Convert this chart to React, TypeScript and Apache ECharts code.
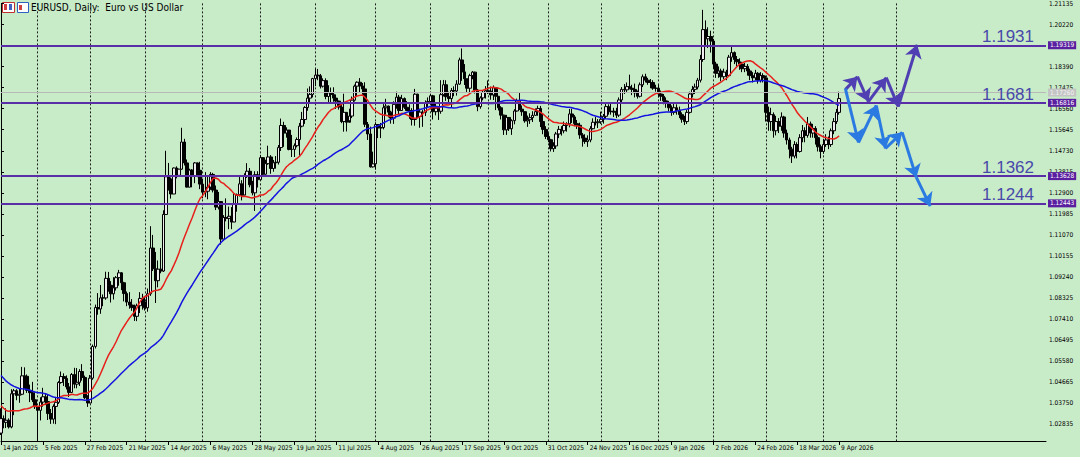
import React, { useEffect, useRef } from "react";
import * as echarts from "echarts";

// ---------- DATA ----------
// closes before the first visible bar (needed only for the moving averages)
const preCloses = [
  1.0880, 1.0925, 1.0728, 1.0800, 1.0719, 1.0656, 1.0623, 1.0563, 1.0529, 1.0541,
  1.0598, 1.0596, 1.0543, 1.0474, 1.0418, 1.0495, 1.0488, 1.0566, 1.0553, 1.0577,
  1.0497, 1.0500, 1.0511, 1.0587, 1.0567, 1.0554, 1.0525, 1.0497, 1.0467, 1.0500,
  1.0514, 1.0490, 1.0352, 1.0365, 1.0430, 1.0406, 1.0405, 1.0422, 1.0427, 1.0405,
  1.0354, 1.0265, 1.0307, 1.0389, 1.0340, 1.0317, 1.0300, 1.0244, 1.0245,
];

const closes = [
  // Jan 2025
  1.0308, 1.0292, 1.0301, 1.0272, 1.0416, 1.0429, 1.0409, 1.0414, 1.0494, 1.0492, 1.0431, 1.0421, 1.0390, 1.0360,
  // Feb
  1.0344, 1.0380, 1.0403, 1.0382, 1.0330, 1.0306, 1.0361, 1.0379, 1.0465, 1.0491, 1.0483, 1.0446, 1.0422, 1.0500, 1.0458, 1.0466, 1.0513, 1.0487, 1.0399, 1.0376,
  // Mar
  1.0484, 1.0622, 1.0791, 1.0785, 1.0833, 1.0833, 1.0918, 1.0888, 1.0851, 1.0877, 1.0921, 1.0942, 1.0899, 1.0852, 1.0815, 1.0802, 1.0791, 1.0753, 1.0799, 1.0831, 1.0815,
  // Apr
  1.0790, 1.0851, 1.1050, 1.0960, 1.0908, 1.0958, 1.0950, 1.1196, 1.1360, 1.1350, 1.1285, 1.1398, 1.1366, 1.1393, 1.1511, 1.1420, 1.1315, 1.1389, 1.1364, 1.1420, 1.1388, 1.1328,
  // May
  1.1293, 1.1297, 1.1315, 1.1370, 1.1302, 1.1228, 1.1252, 1.1089, 1.1183, 1.1179, 1.1188, 1.1163, 1.1243, 1.1282, 1.1329, 1.1280, 1.1364, 1.1384, 1.1325, 1.1290, 1.1369, 1.1347,
  // Jun
  1.1443, 1.1371, 1.1417, 1.1446, 1.1396, 1.1421, 1.1423, 1.1487, 1.1583, 1.1550, 1.1563, 1.1479, 1.1479, 1.1495, 1.1522, 1.1580, 1.1609, 1.1661, 1.1702, 1.1718, 1.1787,
  // Jul
  1.1802, 1.1799, 1.1754, 1.1778, 1.1709, 1.1725, 1.1718, 1.1702, 1.1689, 1.1663, 1.1600, 1.1640, 1.1597, 1.1624, 1.1693, 1.1754, 1.1771, 1.1755, 1.1742, 1.1588, 1.1546, 1.1403, 1.1416,
  // Aug
  1.1587, 1.1572, 1.1574, 1.1660, 1.1667, 1.1641, 1.1615, 1.1675, 1.1706, 1.1648, 1.1700, 1.1662, 1.1648, 1.1648, 1.1609, 1.1719, 1.1622, 1.1641, 1.1640, 1.1681, 1.1687,
  // Sep
  1.1712, 1.1643, 1.1658, 1.1645, 1.1717, 1.1760, 1.1708, 1.1700, 1.1735, 1.1733, 1.1763, 1.1868, 1.1816, 1.1786, 1.1745, 1.1800, 1.1815, 1.1737, 1.1665, 1.1703, 1.1727, 1.1734,
  // Oct
  1.1732, 1.1716, 1.1747, 1.1710, 1.1660, 1.1628, 1.1564, 1.1618, 1.1569, 1.1604, 1.1646, 1.1690, 1.1654, 1.1643, 1.1603, 1.1608, 1.1617, 1.1627, 1.1643, 1.1657, 1.1600, 1.1566, 1.1535,
  // Nov
  1.1521, 1.1482, 1.1494, 1.1546, 1.1566, 1.1560, 1.1583, 1.1590, 1.1633, 1.1620, 1.1591, 1.1584, 1.1542, 1.1528, 1.1513, 1.1520, 1.1569, 1.1597, 1.1595, 1.1599,
  // Dec
  1.1610, 1.1623, 1.1665, 1.1643, 1.1645, 1.1641, 1.1628, 1.1694, 1.1740, 1.1738, 1.1752, 1.1745, 1.1740, 1.1725, 1.1710, 1.1760, 1.1795, 1.1780, 1.1770, 1.1770, 1.1745, 1.1745,
  // Jan 2026
  1.1720, 1.1710, 1.1690, 1.1680, 1.1660, 1.1640, 1.1660, 1.1650, 1.1630, 1.1610, 1.1600, 1.1640, 1.1720, 1.1740, 1.1750, 1.1780, 1.1870, 1.2000, 1.1960, 1.1970, 1.1950,
  // Feb 2026
  1.1850, 1.1810, 1.1820, 1.1795, 1.1815, 1.1800, 1.1880, 1.1900, 1.1870, 1.1860, 1.1850, 1.1830, 1.1840, 1.1820, 1.1800, 1.1790, 1.1810, 1.1780, 1.1800, 1.1790,
  // Mar 2026
  1.1640, 1.1600, 1.1630, 1.1560, 1.1600, 1.1580, 1.1620, 1.1550, 1.1520, 1.1480, 1.1450, 1.1500, 1.1470, 1.1530, 1.1560, 1.1540, 1.1590, 1.1550, 1.1570, 1.1530, 1.1490, 1.1470,
  // Apr 2026
  1.1500, 1.1520, 1.1500, 1.1560, 1.1600, 1.1640, 1.1700,
];

const highs = [
  1.0353, 1.0322, 1.0353, 1.0309, 1.0436, 1.0437, 1.0436, 1.0438, 1.0533, 1.0531, 1.0500, 1.0456, 1.0468, 1.0423,
  1.0360, 1.0401, 1.0442, 1.0416, 1.0412, 1.0350, 1.0370, 1.0398, 1.0471, 1.0513, 1.0505, 1.0496, 1.0463, 1.0506, 1.0529, 1.0528, 1.0523, 1.0545, 1.0495, 1.0410,
  1.0498, 1.0630, 1.0804, 1.0854, 1.0889, 1.0848, 1.0947, 1.0946, 1.0906, 1.0923, 1.0928, 1.0955, 1.0945, 1.0903, 1.0861, 1.0858, 1.0828, 1.0804, 1.0808, 1.0858, 1.0851,
  1.0836, 1.0874, 1.1145, 1.1107, 1.1033, 1.0996, 1.1050, 1.1214, 1.1473, 1.1420, 1.1357, 1.1400, 1.1405, 1.1395, 1.1573, 1.1525, 1.1435, 1.1395, 1.1393, 1.1424, 1.1422, 1.1425,
  1.1352, 1.1380, 1.1362, 1.1380, 1.1377, 1.1322, 1.1294, 1.1250, 1.1193, 1.1266, 1.1230, 1.1228, 1.1287, 1.1287, 1.1363, 1.1345, 1.1375, 1.1419, 1.1398, 1.1342, 1.1384, 1.1384,
  1.1455, 1.1441, 1.1434, 1.1495, 1.1454, 1.1433, 1.1450, 1.1498, 1.1613, 1.1599, 1.1575, 1.1561, 1.1542, 1.1505, 1.1531, 1.1594, 1.1642, 1.1667, 1.1744, 1.1753, 1.1790,
  1.1830, 1.1829, 1.1807, 1.1788, 1.1788, 1.1758, 1.1748, 1.1749, 1.1718, 1.1691, 1.1680, 1.1721, 1.1638, 1.1656, 1.1709, 1.1761, 1.1775, 1.1789, 1.1768, 1.1771, 1.1598, 1.1578, 1.1469,
  1.1597, 1.1584, 1.1594, 1.1676, 1.1699, 1.1670, 1.1647, 1.1688, 1.1730, 1.1716, 1.1716, 1.1705, 1.1689, 1.1675, 1.1658, 1.1742, 1.1721, 1.1656, 1.1650, 1.1692, 1.1705,
  1.1720, 1.1716, 1.1680, 1.1666, 1.1780, 1.1781, 1.1780, 1.1730, 1.1746, 1.1753, 1.1780, 1.1878, 1.1918, 1.1850, 1.1787, 1.1808, 1.1820, 1.1817, 1.1742, 1.1710, 1.1733, 1.1754,
  1.1779, 1.1752, 1.1757, 1.1744, 1.1710, 1.1667, 1.1630, 1.1629, 1.1618, 1.1610, 1.1654, 1.1700, 1.1728, 1.1670, 1.1645, 1.1626, 1.1636, 1.1645, 1.1657, 1.1669, 1.1668, 1.1635, 1.1580,
  1.1550, 1.1525, 1.1510, 1.1555, 1.1581, 1.1580, 1.1600, 1.1597, 1.1655, 1.1656, 1.1628, 1.1607, 1.1595, 1.1550, 1.1545, 1.1540, 1.1580, 1.1614, 1.1620, 1.1611,
  1.1643, 1.1633, 1.1683, 1.1675, 1.1680, 1.1660, 1.1660, 1.1705, 1.1750, 1.1763, 1.1770, 1.1804, 1.1760, 1.1765, 1.1735, 1.1770, 1.1805, 1.1808, 1.1790, 1.1785, 1.1780, 1.1760,
  1.1760, 1.1735, 1.1720, 1.1705, 1.1690, 1.1670, 1.1680, 1.1675, 1.1665, 1.1640, 1.1625, 1.1650, 1.1730, 1.1755, 1.1765, 1.1790, 1.1890, 1.2086, 1.2040, 1.2010, 1.1995,
  1.1960, 1.1860, 1.1840, 1.1830, 1.1830, 1.1825, 1.1890, 1.1930, 1.1905, 1.1885, 1.1875, 1.1860, 1.1855, 1.1850, 1.1830, 1.1815, 1.1825, 1.1815, 1.1815, 1.1810,
  1.1800, 1.1665, 1.1660, 1.1640, 1.1625, 1.1615, 1.1640, 1.1625, 1.1565, 1.1530, 1.1490, 1.1515, 1.1510, 1.1545, 1.1585, 1.1575, 1.1620, 1.1600, 1.1590, 1.1580, 1.1540, 1.1500,
  1.1525, 1.1545, 1.1535, 1.1570, 1.1615, 1.1655, 1.1730,
];

// lows as visible in the picture (the 3 Feb 2025 wick runs to the bottom edge)
const lows = [
  1.0237, 1.0266, 1.0267, 1.0265, 1.0266, 1.0323, 1.0388, 1.0377, 1.0410, 1.0437, 1.0420, 1.0380, 1.0380, 1.0350,
  1.0212, 1.0300, 1.0360, 1.0367, 1.0302, 1.0285, 1.0286, 1.0284, 1.0372, 1.0460, 1.0450, 1.0435, 1.0402, 1.0420, 1.0440, 1.0440, 1.0450, 1.0473, 1.0393, 1.0359,
  1.0387, 1.0477, 1.0613, 1.0760, 1.0764, 1.0797, 1.0825, 1.0860, 1.0813, 1.0826, 1.0865, 1.0886, 1.0867, 1.0818, 1.0797, 1.0786, 1.0777, 1.0733, 1.0732, 1.0767, 1.0782,
  1.0778, 1.0773, 1.0842, 1.0950, 1.0811, 1.0879, 1.0940, 1.0946, 1.1196, 1.1300, 1.1265, 1.1285, 1.1353, 1.1363, 1.1390, 1.1409, 1.1313, 1.1314, 1.1314, 1.1332, 1.1358, 1.1306,
  1.1266, 1.1271, 1.1262, 1.1303, 1.1292, 1.1215, 1.1218, 1.1065, 1.1081, 1.1166, 1.1132, 1.1132, 1.1165, 1.1208, 1.1274, 1.1257, 1.1282, 1.1355, 1.1314, 1.1279, 1.1211, 1.1313,
  1.1345, 1.1360, 1.1369, 1.1412, 1.1373, 1.1382, 1.1395, 1.1413, 1.1472, 1.1490, 1.1530, 1.1475, 1.1446, 1.1446, 1.1488, 1.1452, 1.1575, 1.1590, 1.1647, 1.1681, 1.1705,
  1.1754, 1.1780, 1.1744, 1.1748, 1.1697, 1.1682, 1.1683, 1.1686, 1.1655, 1.1652, 1.1593, 1.1556, 1.1557, 1.1606, 1.1615, 1.1687, 1.1712, 1.1725, 1.1716, 1.1576, 1.1520, 1.1400, 1.1400,
  1.1391, 1.1528, 1.1528, 1.1566, 1.1630, 1.1618, 1.1591, 1.1590, 1.1656, 1.1631, 1.1647, 1.1655, 1.1646, 1.1612, 1.1583, 1.1582, 1.1614, 1.1573, 1.1577, 1.1624, 1.1661,
  1.1679, 1.1609, 1.1627, 1.1607, 1.1634, 1.1709, 1.1690, 1.1681, 1.1660, 1.1710, 1.1713, 1.1760, 1.1777, 1.1759, 1.1726, 1.1728, 1.1784, 1.1722, 1.1645, 1.1656, 1.1692, 1.1700,
  1.1720, 1.1695, 1.1694, 1.1650, 1.1648, 1.1609, 1.1542, 1.1542, 1.1559, 1.1542, 1.1588, 1.1643, 1.1650, 1.1625, 1.1595, 1.1577, 1.1590, 1.1598, 1.1626, 1.1625, 1.1576, 1.1545, 1.1524,
  1.1510, 1.1470, 1.1468, 1.1481, 1.1528, 1.1539, 1.1549, 1.1556, 1.1575, 1.1594, 1.1580, 1.1568, 1.1525, 1.1491, 1.1503, 1.1490, 1.1510, 1.1566, 1.1583, 1.1572,
  1.1590, 1.1591, 1.1614, 1.1630, 1.1630, 1.1620, 1.1615, 1.1620, 1.1680, 1.1720, 1.1725, 1.1740, 1.1715, 1.1705, 1.1700, 1.1705, 1.1750, 1.1770, 1.1760, 1.1745, 1.1738, 1.1730,
  1.1705, 1.1690, 1.1675, 1.1660, 1.1645, 1.1625, 1.1630, 1.1630, 1.1615, 1.1595, 1.1585, 1.1590, 1.1635, 1.1705, 1.1720, 1.1740, 1.1770, 1.1860, 1.1930, 1.1920, 1.1900,
  1.1830, 1.1790, 1.1790, 1.1775, 1.1785, 1.1780, 1.1795, 1.1860, 1.1850, 1.1840, 1.1825, 1.1815, 1.1815, 1.1800, 1.1780, 1.1770, 1.1780, 1.1765, 1.1770, 1.1770,
  1.1600, 1.1560, 1.1560, 1.1530, 1.1540, 1.1550, 1.1560, 1.1530, 1.1500, 1.1440, 1.1420, 1.1440, 1.1440, 1.1465, 1.1510, 1.1510, 1.1530, 1.1530, 1.1530, 1.1500, 1.1470, 1.1440,
  1.1460, 1.1490, 1.1480, 1.1490, 1.1545, 1.1590, 1.1630,
];

const FIRST_DATE = "2025-01-14";
const TOTAL_SLOTS = 400; // bars + empty future area
const HOLIDAYS = ["2025-12-25", "2026-01-01"];
const LABEL_STEP = 16;
const LAST_LABEL_INDEX = 320;
const monthLines = [
  "2025-02-03", "2025-03-03", "2025-04-01", "2025-05-01", "2025-06-02", "2025-07-01",
  "2025-08-01", "2025-09-01", "2025-10-01", "2025-11-03", "2025-12-01", "2026-01-02",
  "2026-02-02", "2026-03-02", "2026-04-01", "2026-05-11",
];
const yTicks = [
  1.02835, 1.0375, 1.04665, 1.0558, 1.06495, 1.0741, 1.08325, 1.0924, 1.10155, 1.1107,
  1.11985, 1.129, 1.13815, 1.1473, 1.15645, 1.1656, 1.17475, 1.1839, 1.19305, 1.2022, 1.21135,
];
const levels = [1.19319, 1.16816, 1.13628, 1.12443];
const levelTexts = ["1.1931", "1.1681", "1.1362", "1.1244"];
const bidPrice = 1.1726;

// projected paths: [bar index, price]
const bullPath = [
  [322.4, 1.1739], [327.0, 1.1795], [331.2, 1.1687], [338.0, 1.1791], [342.6, 1.1665], [349.8, 1.1934],
];
const bearPath = [
  [322.4, 1.1743], [327.4, 1.1509], [334.2, 1.1670], [337.7, 1.1483], [344.1, 1.1553], [349.5, 1.1357], [354.8, 1.1232],
];

const MA_FAST = 20;
const MA_SLOW = 50;

// ---------- helpers ----------
const MONTHS = ["Jan", "Feb", "Mar", "Apr", "May", "Jun", "Jul", "Aug", "Sep", "Oct", "Nov", "Dec"];

function buildDates(): string[] {
  const out: string[] = [];
  let t = Date.parse(FIRST_DATE + "T00:00:00Z");
  while (out.length < TOTAL_SLOTS) {
    const d = new Date(t);
    const wd = d.getUTCDay();
    const s = d.toISOString().slice(0, 10);
    if (wd !== 0 && wd !== 6 && !HOLIDAYS.includes(s)) out.push(s);
    t += 86400000;
  }
  return out;
}

function fmtDate(s: string): string {
  const [y, m, d] = s.split("-");
  return `${parseInt(d, 10)} ${MONTHS[parseInt(m, 10) - 1]} ${y}`;
}

function sma(n: number): (number | null)[] {
  const all = preCloses.concat(closes);
  const off = preCloses.length;
  return closes.map((_, i) => {
    const end = off + i;
    const start = end - n + 1;
    if (start < 0) return null;
    let s = 0;
    for (let j = start; j <= end; j++) s += all[j];
    return +(s / n).toFixed(5);
  });
}

function segments(path: number[][]) {
  const segs: any[] = [];
  for (let i = 0; i < path.length - 1; i++) segs.push({ coords: [path[i], path[i + 1]] });
  return segs;
}

const FONT = "Tahoma, 'DejaVu Sans Condensed', 'Liberation Sans', Arial, sans-serif";

export default function App() {
  const ref = useRef<HTMLDivElement>(null);

  useEffect(() => {
    document.body.style.margin = "0";
    if (!ref.current) return;
    const chart = echarts.init(ref.current, undefined, { renderer: "svg" });
    const dates = buildDates();
    const candles = closes.map((c, i) => {
      const o = i === 0 ? preCloses[preCloses.length - 1] : closes[i - 1];
      return [o, c, lows[i], highs[i]];
    });

    const option: any = {
      animation: false,
      backgroundColor: "#c8ebc8",
      grid: { left: -1, right: 34, top: 2, bottom: 16, containLabel: false },
      graphic: [
        { type: "rect", left: 2, top: 2, shape: { width: 12, height: 10 }, style: { fill: "#ffffff", stroke: "#c03030", lineWidth: 1 } },
        { type: "rect", left: 4, top: 4, shape: { width: 3, height: 6 }, style: { fill: "#d04040" } },
        { type: "rect", left: 9, top: 4, shape: { width: 3, height: 6 }, style: { fill: "#4060c0" } },
        { type: "rect", left: 17, top: 2, shape: { width: 11, height: 10 }, style: { fill: "#ffffff", stroke: "#3060c0", lineWidth: 1 } },
        { type: "rect", left: 19, top: 5, shape: { width: 3, height: 5 }, style: { fill: "#d04040" } },
        {
          type: "text", left: 31, top: 2,
          style: { text: "EURUSD, Daily:  Euro vs US Dollar", fontSize: 10, fill: "#000", fontFamily: FONT },
        },
      ],
      xAxis: [
        {
          type: "category",
          data: dates,
          boundaryGap: false,
          axisLine: { show: true, lineStyle: { color: "#000", width: 1 } },
          axisTick: {
            show: true, length: 4, lineStyle: { color: "#000" },
            interval: (i: number) => i % LABEL_STEP === 0 && i <= LAST_LABEL_INDEX,
          },
          axisLabel: {
            interval: (i: number) => i % LABEL_STEP === 0 && i <= LAST_LABEL_INDEX,
            formatter: (v: string) => fmtDate(v),
            align: "left", fontSize: 6.5, color: "#000", margin: 3, padding: [0, 0, 0, 2],
            fontFamily: FONT, showMinLabel: true,
          },
          splitLine: {
            show: true,
            interval: (_i: number, v: string) => monthLines.includes(v),
            lineStyle: { color: "#202020", width: 1, type: [2, 2] },
          },
        },
        { type: "value", min: 0, max: TOTAL_SLOTS - 1, show: false },
      ],
      yAxis: [
        {
          type: "value",
          position: "right",
          min: 1.02107,
          max: 1.2114,
          axisLine: { show: true, lineStyle: { color: "#000", width: 1 } },
          axisTick: { show: true, length: 3, lineStyle: { color: "#000" }, customValues: yTicks },
          axisLabel: {
            customValues: yTicks, formatter: (v: number) => v.toFixed(5),
            fontSize: 6.5, color: "#000", margin: 3, fontFamily: FONT,
          },
          splitLine: { show: false },
        },
      ],
      series: [
        {
          type: "candlestick",
          data: candles,
          barWidth: 3,
          clip: true,
          itemStyle: { color: "#eeeeee", color0: "#000000", borderColor: "#000000", borderColor0: "#000000", borderWidth: 1 },
          z: 2,
        },
        {
          type: "line", data: sma(MA_FAST), showSymbol: false, smooth: false,
          lineStyle: { color: "#e8201c", width: 1.5 }, z: 3,
        },
        {
          type: "line", data: sma(MA_SLOW), showSymbol: false, smooth: false,
          lineStyle: { color: "#1414e0", width: 1.5 }, z: 3,
          markLine: {
            silent: true, symbol: "none", animation: false, precision: 5,
            lineStyle: { color: "#b8b8b8", width: 1, type: "solid" },
            label: {
              show: true, position: "end", distance: 2, fontSize: 6.5, color: "#f4f4f4",
              backgroundColor: "#c4c4c4", padding: [1, 2, 0, 2], fontFamily: FONT,
              formatter: (p: any) => Number(p.value).toFixed(5),
            },
            data: [{ yAxis: bidPrice }],
          },
        },
        {
          // support / resistance levels with their big captions
          type: "line", data: [], z: 4,
          markLine: {
            silent: true, symbol: "none", animation: false, precision: 5,
            lineStyle: { color: "#5a2ea6", width: 2, type: "solid" },
            label: {
              show: true, position: "insideEndTop", fontSize: 17, color: "#4848aa",
              fontFamily: "'Liberation Sans Narrow', 'Liberation Sans', Arial, sans-serif",
              distance: 0, padding: [0, 12, 0, 0],
            },
            data: levels.map((v, i) => ({ yAxis: v, label: { formatter: levelTexts[i] } })),
          },
        },
        {
          // price tags of the levels on the axis
          type: "line", data: [], z: 6,
          markLine: {
            silent: true, symbol: "none", animation: false, precision: 5,
            lineStyle: { color: "#5a2ea6", width: 2, type: "solid" },
            label: {
              show: true, position: "end", distance: 2, fontSize: 6.5, color: "#ffffff",
              backgroundColor: "#5a1ea0", padding: [1, 2, 0, 2], fontFamily: FONT,
              formatter: (p: any) => Number(p.value).toFixed(5),
            },
            data: levels.map((v) => ({ yAxis: v })),
          },
        },
        {
          type: "lines", coordinateSystem: "cartesian2d", xAxisIndex: 1, yAxisIndex: 0,
          data: segments(bullPath), symbol: ["none", "arrow"], symbolSize: 13,
          lineStyle: { color: "#4f3fb2", width: 3, opacity: 1 }, z: 5, silent: true,
        },
        {
          type: "lines", coordinateSystem: "cartesian2d", xAxisIndex: 1, yAxisIndex: 0,
          data: segments(bearPath), symbol: ["none", "arrow"], symbolSize: 13,
          lineStyle: { color: "#2a7ae2", width: 3, opacity: 1 }, z: 5, silent: true,
        },
      ],
    };
    chart.setOption(option);
    return () => chart.dispose();
  }, []);

  return <div ref={ref} style={{ width: 1080, height: 457 }} />;
}
